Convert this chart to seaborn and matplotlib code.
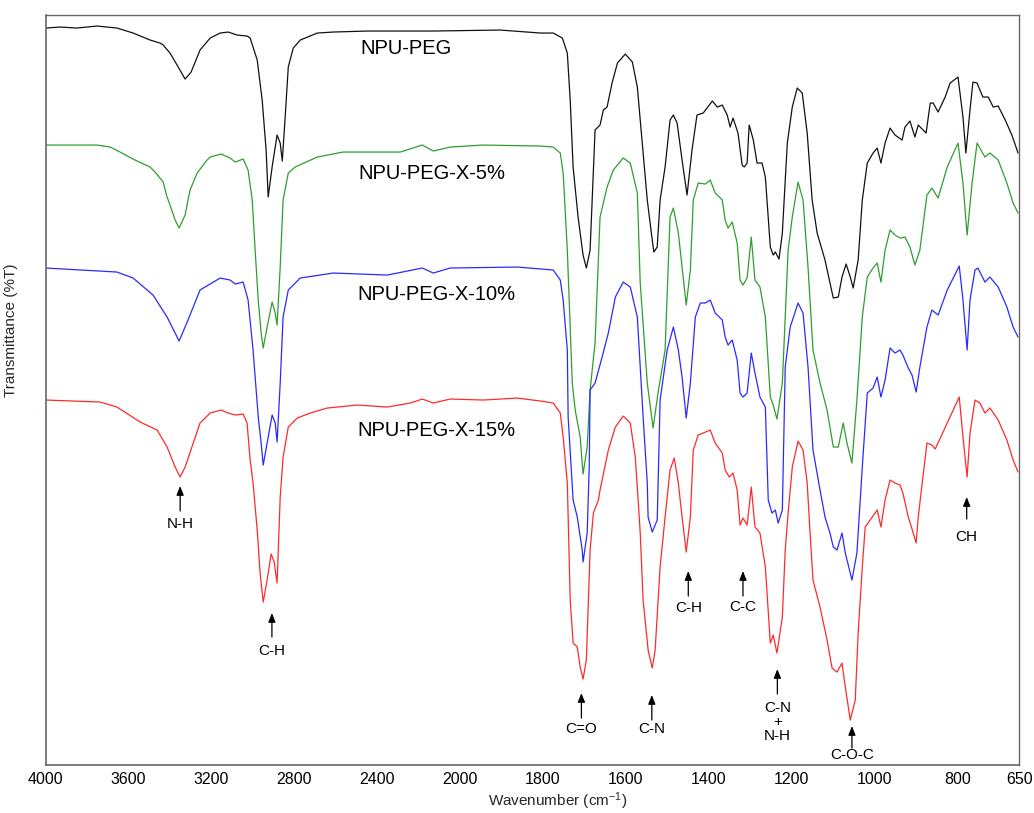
import numpy as np
import pandas as pd
import matplotlib
matplotlib.use("Agg")
import matplotlib.pyplot as plt
import seaborn as sns

# ---------------- data (wavenumber cm-1, offset transmittance a.u.) ----------------
npu_peg = [(3999, 737), (3930, 738), (3850, 737), (3752, 739), (3656, 737), (3578, 732), (3496, 725),
           (3448, 722), (3433, 720), (3400, 712), (3366, 700), (3327, 686), (3298, 693), (3255, 715),
           (3206, 727), (3158, 732), (3119, 733), (3076, 730), (3028, 729), (3013, 727), (2979, 705),
           (2955, 665), (2936, 615), (2926, 568), (2907, 598), (2883, 630), (2868, 622), (2858, 604),
           (2844, 648), (2829, 698), (2805, 717), (2771, 725), (2689, 732), (2612, 733), (2448, 734),
           (2129, 734), (1903, 735), (1806, 732), (1775, 732), (1753, 727), (1741, 712), (1734, 665),
           (1727, 598), (1715, 548), (1703, 510), (1695, 497), (1686, 515), (1674, 635), (1662, 640),
           (1654, 655), (1645, 658), (1633, 682), (1620, 702), (1601, 711), (1584, 703), (1572, 678),
           (1560, 622), (1548, 565), (1536, 525), (1532, 513), (1524, 518), (1517, 565), (1505, 598),
           (1493, 645), (1485, 650), (1476, 642), (1464, 605), (1452, 570), (1440, 615), (1428, 650),
           (1413, 652), (1391, 664), (1379, 658), (1367, 660), (1355, 650), (1348, 638), (1341, 647),
           (1329, 632), (1319, 600), (1314, 598), (1307, 602), (1302, 640), (1292, 625), (1283, 602),
           (1271, 602), (1263, 588), (1251, 518), (1244, 510), (1239, 513), (1230, 506), (1222, 532),
           (1210, 622), (1198, 658), (1186, 677), (1174, 672), (1162, 632), (1150, 565), (1138, 532),
           (1126, 515), (1119, 505), (1107, 482), (1099, 467), (1087, 468), (1078, 488), (1068, 501),
           (1058, 488), (1051, 477), (1039, 505), (1029, 565), (1017, 602), (1003, 612), (993, 617),
           (984, 602), (974, 622), (962, 637), (950, 630), (933, 625), (926, 638), (914, 644),
           (902, 628), (894, 640), (875, 632), (865, 662), (858, 662), (846, 653), (829, 668),
           (817, 682), (798, 688), (786, 648), (779, 612), (769, 655), (762, 683), (752, 682),
           (738, 668), (725, 668), (713, 658), (701, 659), (684, 645), (668, 630), (653, 612)]

npu_peg_x5 = [(3999, 620), (3752, 620), (3689, 618), (3641, 613), (3569, 605), (3496, 598), (3472, 593),
              (3433, 583), (3414, 568), (3400, 560), (3375, 545), (3356, 537), (3327, 550), (3313, 565),
              (3303, 575), (3269, 592), (3221, 605), (3206, 608), (3153, 611), (3110, 607), (3085, 603),
              (3047, 606), (3023, 595), (3003, 565), (2989, 515), (2974, 465), (2960, 432), (2950, 417),
              (2931, 438), (2907, 463), (2892, 452), (2883, 440), (2868, 498), (2854, 565), (2829, 592),
              (2796, 598), (2689, 608), (2564, 613), (2288, 613), (2182, 620), (2129, 614), (2047, 618),
              (1944, 620), (1806, 619), (1775, 618), (1758, 612), (1751, 592), (1741, 515), (1729, 382),
              (1722, 355), (1710, 328), (1703, 291), (1693, 318), (1686, 375), (1674, 422), (1662, 548),
              (1645, 578), (1630, 595), (1606, 607), (1589, 602), (1572, 572), (1565, 482), (1548, 382),
              (1534, 337), (1522, 372), (1505, 415), (1493, 548), (1485, 557), (1473, 532), (1464, 498),
              (1454, 460), (1444, 495), (1437, 565), (1425, 582), (1408, 581), (1396, 585), (1384, 572),
              (1367, 565), (1360, 545), (1353, 537), (1343, 543), (1331, 522), (1324, 485), (1317, 480),
              (1307, 487), (1297, 528), (1288, 485), (1276, 478), (1263, 448), (1251, 368), (1244, 360),
              (1235, 346), (1222, 382), (1215, 448), (1208, 515), (1198, 548), (1184, 583), (1172, 565),
              (1160, 498), (1148, 415), (1131, 382), (1114, 355), (1099, 318), (1087, 318), (1075, 342),
              (1066, 322), (1054, 302), (1042, 365), (1029, 448), (1017, 488), (1003, 497), (993, 502),
              (984, 483), (974, 515), (962, 535), (950, 530), (938, 527), (926, 528), (914, 518),
              (902, 500), (890, 515), (873, 570), (861, 577), (846, 567), (824, 598), (798, 622),
              (786, 582), (776, 530), (764, 582), (752, 622), (733, 608), (721, 612), (701, 605),
              (680, 582), (665, 562), (653, 552)]

npu_peg_x10 = [(3999, 497), (3656, 493), (3578, 487), (3482, 470), (3414, 448), (3356, 424), (3313, 445),
               (3255, 475), (3158, 487), (3110, 485), (3085, 481), (3047, 483), (3023, 465), (2999, 415),
               (2974, 348), (2960, 322), (2950, 300), (2931, 322), (2907, 350), (2892, 342), (2883, 323),
               (2868, 382), (2854, 448), (2829, 475), (2771, 487), (2612, 492), (2351, 490), (2182, 497),
               (2129, 492), (2047, 497), (1862, 498), (1806, 496), (1775, 495), (1758, 485), (1751, 465),
               (1741, 415), (1739, 348), (1727, 265), (1717, 248), (1705, 215), (1703, 203), (1693, 232),
               (1688, 300), (1686, 375), (1674, 382), (1657, 408), (1642, 432), (1625, 468), (1606, 483),
               (1589, 478), (1572, 448), (1558, 348), (1548, 282), (1546, 248), (1536, 233), (1524, 245),
               (1517, 365), (1500, 415), (1485, 438), (1473, 415), (1464, 388), (1454, 347), (1444, 382),
               (1432, 448), (1420, 462), (1408, 462), (1396, 465), (1384, 452), (1367, 445), (1360, 428),
               (1353, 420), (1343, 425), (1331, 405), (1324, 372), (1317, 368), (1307, 372), (1297, 412),
               (1288, 392), (1276, 368), (1263, 358), (1256, 265), (1247, 252), (1239, 255), (1232, 242),
               (1222, 255), (1215, 398), (1203, 438), (1184, 462), (1172, 452), (1160, 398), (1148, 315),
               (1131, 275), (1119, 248), (1107, 232), (1099, 218), (1090, 215), (1078, 232), (1070, 212),
               (1054, 185), (1042, 212), (1034, 265), (1029, 298), (1017, 372), (1003, 377), (993, 388),
               (984, 368), (974, 385), (962, 417), (950, 412), (938, 415), (931, 410), (918, 397),
               (909, 390), (899, 373), (890, 398), (873, 438), (861, 455), (846, 450), (824, 475),
               (795, 499), (786, 465), (776, 415), (769, 465), (757, 495), (750, 497), (733, 483),
               (721, 488), (701, 478), (680, 458), (665, 438), (653, 428)]

npu_peg_x15 = [(3999, 365), (3738, 363), (3656, 358), (3544, 343), (3462, 335), (3414, 318), (3375, 298),
               (3351, 288), (3327, 298), (3288, 322), (3255, 342), (3206, 352), (3153, 355), (3119, 352),
               (3085, 350), (3047, 351), (3028, 342), (3013, 305), (2999, 282), (2979, 235), (2965, 192),
               (2950, 163), (2931, 185), (2912, 211), (2897, 203), (2883, 182), (2868, 268), (2854, 308),
               (2829, 338), (2786, 347), (2723, 352), (2641, 357), (2496, 360), (2351, 358), (2240, 362),
               (2182, 366), (2129, 362), (2047, 366), (1944, 365), (1862, 367), (1806, 364), (1775, 362),
               (1758, 352), (1751, 328), (1741, 282), (1734, 165), (1727, 122), (1717, 118), (1710, 98),
               (1703, 86), (1695, 105), (1690, 165), (1686, 215), (1678, 252), (1666, 265), (1662, 275),
               (1642, 315), (1625, 338), (1606, 349), (1589, 342), (1577, 308), (1570, 265), (1565, 232),
               (1558, 165), (1546, 115), (1536, 97), (1529, 115), (1517, 198), (1505, 248), (1493, 295),
               (1483, 307), (1473, 282), (1464, 248), (1454, 213), (1444, 248), (1437, 315), (1425, 330),
               (1413, 332), (1396, 335), (1384, 322), (1367, 312), (1360, 295), (1350, 288), (1341, 292),
               (1331, 275), (1324, 240), (1317, 247), (1307, 240), (1297, 278), (1288, 238), (1276, 232),
               (1263, 198), (1251, 122), (1244, 130), (1235, 112), (1222, 148), (1215, 215), (1208, 252),
               (1198, 298), (1184, 324), (1172, 315), (1162, 282), (1155, 232), (1148, 185), (1131, 158),
               (1114, 125), (1102, 97), (1090, 93), (1078, 102), (1070, 78), (1058, 45), (1046, 65),
               (1039, 132), (1029, 198), (1022, 238), (1010, 245), (993, 255), (984, 238), (974, 265),
               (962, 285), (950, 282), (938, 280), (931, 272), (918, 248), (906, 232), (899, 222),
               (894, 248), (873, 322), (861, 320), (853, 316), (824, 342), (795, 368), (786, 328),
               (776, 288), (769, 332), (757, 365), (745, 362), (733, 352), (721, 357), (701, 345),
               (680, 325), (665, 305), (653, 293)]

series_names = ["NPU-PEG", "NPU-PEG-X-5%", "NPU-PEG-X-10%", "NPU-PEG-X-15%"]
series_data = [npu_peg, npu_peg_x5, npu_peg_x10, npu_peg_x15]
series_colors = ["#111111", "#2f9e2f", "#2a2aff", "#ff2a2a"]

# curve labels: (text, left wavenumber, level)
curve_labels = [("NPU-PEG", 2482, 717), ("NPU-PEG-X-5%", 2491, 592),
                ("NPU-PEG-X-10%", 2496, 471), ("NPU-PEG-X-15%", 2496, 335)]

# band annotations: (text, wavenumber, arrow tip, arrow tail, text level)
bands = [("N-H", 3351, 279, 254, 241), ("C-H", 2908, 152, 128, 114),
         ("C=O", 1707, 72, 47, 36), ("C-N", 1537, 70, 45, 36),
         ("C-H", 1449, 194, 169, 157), ("C-C", 1317, 194, 169, 158),
         ("C-N\n+\nN-H", 1234, 96, 71, 43), ("C-O-C", 1054, 39, 17, 10),
         ("CH", 777, 268, 246, 228)]

xtick_vals = [4000, 3600, 3200, 2800, 2400, 2000, 1800, 1600, 1400, 1200, 1000, 800, 650]

# ---------------- build frame ----------------
rows = []
for name, data in zip(series_names, series_data):
    for w, t in data:
        rows.append({"wavenumber": w, "T": t, "sample": name})
df = pd.DataFrame(rows)

# ---------------- plot ----------------
sns.set_theme(style="white")
plt.rcParams["font.family"] = ["Liberation Sans", "DejaVu Sans"]
plt.rcParams["mathtext.fontset"] = "custom"
plt.rcParams["mathtext.rm"] = "Liberation Sans"
plt.rcParams["mathtext.it"] = "Liberation Sans"
plt.rcParams["mathtext.bf"] = "Liberation Sans"

fig = plt.figure(figsize=(10.34, 8.13), dpi=100)
ax = fig.add_axes([0.0442, 0.0590, 0.9416, 0.9225])

sns.lineplot(data=df, x="wavenumber", y="T", hue="sample", hue_order=series_names,
             palette=dict(zip(series_names, series_colors)), estimator=None, sort=False,
             linewidth=0.9, legend=False, ax=ax)


def fwd(w):
    w = np.asarray(w, dtype=float)
    return np.where(w > 2000, 2000 + (w - 2000) / 2.0, w)


def inv(v):
    v = np.asarray(v, dtype=float)
    return np.where(v > 2000, 2000 + (v - 2000) * 2.0, v)


ax.set_xscale("function", functions=(fwd, inv))
ax.set_xlim(4000, 650)
ax.set_ylim(0, 750)
ax.xaxis.set_major_locator(matplotlib.ticker.FixedLocator(xtick_vals))
ax.xaxis.set_minor_locator(matplotlib.ticker.NullLocator())
ax.set_xticklabels([str(v) for v in xtick_vals])
ax.set_yticks(16.7 + 25.73 * np.arange(29))
ax.set_yticklabels([])
ax.tick_params(axis="both", which="major", direction="out", length=3, width=1,
               color="#777777", labelsize=11.5, labelcolor="black", pad=2)

for side, sp in ax.spines.items():
    sp.set_visible(True)
    sp.set_color("#666666")
    sp.set_linewidth(1.2 if side in ("left", "bottom") else 1.0)

ax.set_xlabel("Wavenumber (cm$^{-1}$)", fontsize=11)
ax.set_ylabel("Transmittance (%T)", fontsize=11)
ax.xaxis.set_label_coords(0.526, -0.034)
ax.yaxis.set_label_coords(-0.028, 0.58)

for text, w, lvl in curve_labels:
    ax.text(w, lvl, text, ha="left", va="center", fontsize=14.5, color="black")

for text, w, tip, tail, lvl in bands:
    ax.annotate("", xy=(w, tip), xytext=(w, tail),
                arrowprops=dict(arrowstyle="-|>,head_length=0.45,head_width=0.18",
                                color="black", lw=0.9, shrinkA=0, shrinkB=0))
    ax.text(w, lvl, text, ha="center", va="center", fontsize=11, color="black",
            linespacing=1.0)

fig.savefig("out.png", dpi=100)
